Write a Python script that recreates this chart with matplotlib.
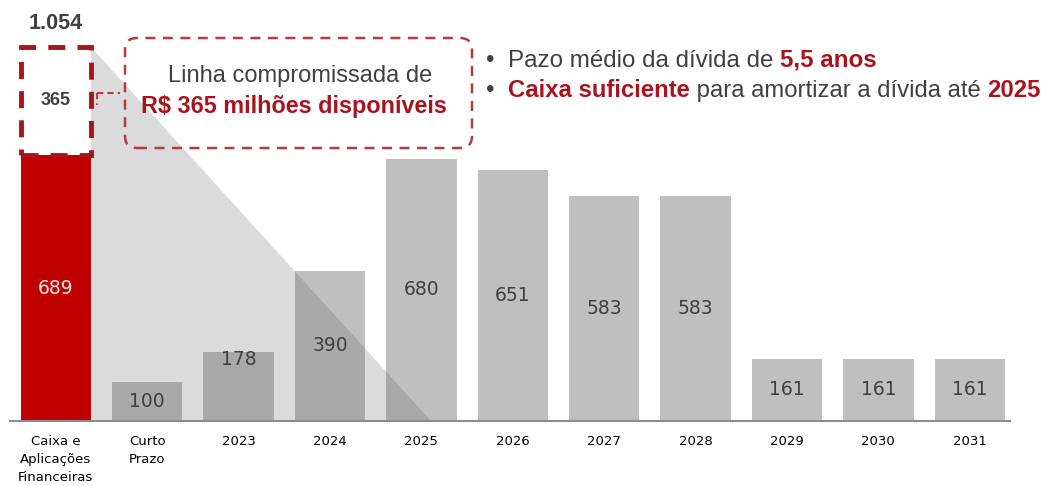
import matplotlib as mpl
mpl.use('Agg')
import matplotlib.pyplot as plt
from matplotlib.patches import FancyBboxPatch, Rectangle, Polygon

# data
categories = ['Caixa e\nAplicações\nFinanceiras', 'Curto\nPrazo', '2023', '2024', '2025',
              '2026', '2027', '2028', '2029', '2030', '2031']
cash = 689
credit_line = 365
total = 1054
debt = [100, 178, 390, 680, 651, 583, 583, 161, 161, 161]

RED = '#c00000'
DARKRED = '#a8141d'
GRAY = '#bfbfbf'
TXT = '#404040'

fig = plt.figure(figsize=(10.52, 4.86), dpi=100)
ax = fig.add_axes([10 / 1052, 65 / 486, 1000 / 1052, 421 / 486])
ax.set_xlim(-0.5, 10.44)
ax.set_ylim(0, 1091)
ax.axis('off')

w = 0.77
# cash bar
ax.bar(0, cash, width=w, color=RED, zorder=2)
ax.text(0, cash / 2, str(cash), ha='center', va='center', fontsize=13.5,
        color='#f7e6e6', family='DejaVu Sans', zorder=5)

# credit line (drawn compressed, like in the slide)
squash = 0.77
top = cash + credit_line * squash
ax.add_patch(Rectangle((-w / 2, cash), w, credit_line * squash, fill=False,
                       ec=DARKRED, lw=3.5, ls=(0, (3.5, 2.5)), zorder=4))
ax.text(0, cash + credit_line * squash / 2, str(credit_line), ha='center', va='center',
        fontsize=13, fontweight='bold', color=TXT, family='Liberation Sans', zorder=5)
ax.annotate(f'{total / 1000:.3f}', (0, top), xytext=(0, 9), textcoords='offset points',
            ha='center', va='bottom', fontsize=15.5, fontweight='bold', color=TXT,
            family='Liberation Sans')

# debt bars
xs = list(range(1, len(categories)))
ax.bar(xs, debt, width=w, color=GRAY, zorder=2)
for x, v in zip(xs, debt):
    y = v / 2 if v != 178 else v * 0.89
    ax.text(x, y, str(v), ha='center', va='center', fontsize=13.5, color=TXT,
            family='DejaVu Sans', zorder=5)

# shaded triangle
ax.add_patch(Polygon([(w / 2, top), (w / 2, 0), (4.11, 0)], closed=True,
                     fc='#5e585c', alpha=0.21, ec='none', zorder=3))

# baseline
ax.plot([-0.5, 10.44], [0, 0], color='#8c8c8c', lw=1.5, zorder=4, clip_on=False)

# category labels
for i, c in enumerate(categories):
    ax.text(i, -36, c, ha='center', va='top', fontsize=9.5, linespacing=1.5,
            family='DejaVu Sans', color='black')

# dashed connector
ax.plot([0.45, 0.7], [850, 850], color='#b83a40', lw=1.5, ls=(0, (3, 2)), zorder=4)
ax.plot([0.45, 0.45], [850, 820], color='#b83a40', lw=1.5, ls=(0, (3, 2)), zorder=4)

# annotation box
box = FancyBboxPatch((1.25, 3.38), 3.47, 1.10, boxstyle='round,pad=0,rounding_size=0.12',
                     transform=fig.dpi_scale_trans, fill=False, ec='#b83a40', lw=1.8,
                     ls=(0, (4, 3)))
fig.add_artist(box)
fig.text(300 / 1052, 1 - 76 / 486, 'Linha compromissada de', ha='center', va='center',
         fontsize=17, color=TXT, family='Liberation Sans')
fig.text(294 / 1052, 1 - 107 / 486, 'R$ 365 milhões disponíveis', ha='center', va='center',
         fontsize=16.8, fontweight='bold', color=DARKRED, family='Liberation Sans')

# bullet points
line1 = [('•  Pazo médio da dívida de ', TXT, 'normal'), ('5,5 anos', DARKRED, 'bold')]
line2 = [('•  ', TXT, 'normal'), ('Caixa suficiente', DARKRED, 'bold'),
         (' para amortizar a dívida até ', TXT, 'normal'), ('2025', DARKRED, 'bold')]


def draw_line(parts, x, y, size=17):
    prev = None
    for s, col, wt in parts:
        if prev is None:
            prev = fig.text(x, y, s, ha='left', va='baseline', fontsize=size, color=col,
                            fontweight=wt, family='Liberation Sans')
        else:
            prev = plt.annotate(s, xy=(1, 0), xycoords=prev, xytext=(0, 0),
                                textcoords='offset points', ha='left', va='bottom',
                                fontsize=size, color=col, fontweight=wt,
                                family='Liberation Sans', annotation_clip=False)


draw_line(line1, 486 / 1052, 1 - 67 / 486, size=17.4)
draw_line(line2, 486 / 1052, 1 - 97 / 486, size=17.2)

fig.savefig('out.png', dpi=100, facecolor='white')
